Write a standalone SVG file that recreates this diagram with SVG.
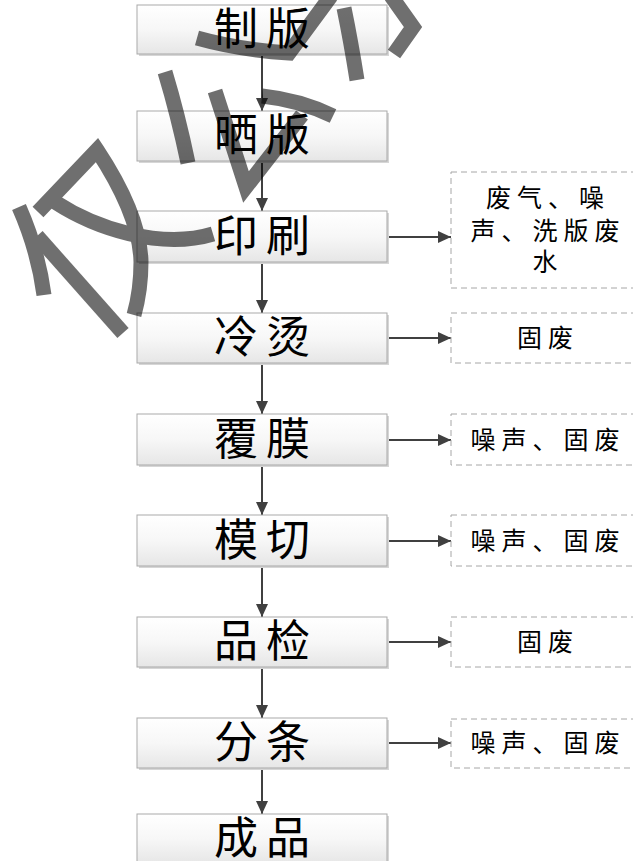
<svg xmlns="http://www.w3.org/2000/svg" width="633" height="861" viewBox="0 0 633 861">
<style>
.box{fill:url(#g);stroke:#a9a9a9;stroke-width:1}
.sh{fill:#d6d6d6}
.lbl{font-family:"Liberation Serif","Noto Sans CJK SC",serif;font-size:44px;letter-spacing:8px;fill:#000;text-anchor:middle;dominant-baseline:central}
.out{fill:#fff;stroke:#a6a6a6;stroke-width:1;stroke-dasharray:6 4}
.otx{font-family:"Liberation Serif","Noto Sans CJK SC",serif;font-size:25px;letter-spacing:6px;fill:#000;text-anchor:middle;dominant-baseline:central}
.c{stroke:#404040;stroke-width:2;fill:none;marker-end:url(#ah)}
.wm{fill:none;stroke:#000;stroke-width:15;stroke-linecap:butt;stroke-linejoin:miter}
</style>
<defs>
<linearGradient id="g" x1="0" y1="0" x2="0" y2="1">
<stop offset="0" stop-color="#ffffff"/>
<stop offset="0.5" stop-color="#f7f7f7"/>
<stop offset="1" stop-color="#e6e6e6"/>
</linearGradient>
<marker id="ah" markerUnits="userSpaceOnUse" markerWidth="14" markerHeight="12" refX="13" refY="6" orient="auto">
<path d="M0,0 L13,6 L0,12 z" fill="#404040"/>
</marker>
</defs>
<rect width="633" height="861" fill="#fff"/>
<g id="connectors">
<path class="c" d="M262,54 V111"/>
<path class="c" d="M262,161 V211"/>
<path class="c" d="M262,262 V313"/>
<path class="c" d="M262,363 V414"/>
<path class="c" d="M262,465 V515"/>
<path class="c" d="M262,566 V617"/>
<path class="c" d="M262,667 V718"/>
<path class="c" d="M262,768 V814"/>
<path class="c" d="M388,237 H451"/>
<path class="c" d="M388,338 H451"/>
<path class="c" d="M388,440 H451"/>
<path class="c" d="M388,541 H451"/>
<path class="c" d="M388,642 H451"/>
<path class="c" d="M388,743 H451"/>
</g>
<g id="n1"><rect class="sh" x="139" y="7" width="250" height="49"/><rect class="box" x="137" y="5" width="250" height="49"/><text class="lbl" x="266" y="30">制版</text></g>
<g id="n2"><rect class="sh" x="139" y="113" width="250" height="50"/><rect class="box" x="137" y="111" width="250" height="50"/><text class="lbl" x="266" y="136">晒版</text></g>
<g id="n3"><rect class="sh" x="139" y="213" width="250" height="51"/><rect class="box" x="137" y="211" width="250" height="51"/><text class="lbl" x="266" y="237">印刷</text></g>
<g id="n4"><rect class="sh" x="139" y="315" width="250" height="50"/><rect class="box" x="137" y="313" width="250" height="50"/><text class="lbl" x="266" y="338">冷烫</text></g>
<g id="n5"><rect class="sh" x="139" y="416" width="250" height="51"/><rect class="box" x="137" y="414" width="250" height="51"/><text class="lbl" x="266" y="440">覆膜</text></g>
<g id="n6"><rect class="sh" x="139" y="517" width="250" height="51"/><rect class="box" x="137" y="515" width="250" height="51"/><text class="lbl" x="266" y="541">模切</text></g>
<g id="n7"><rect class="sh" x="139" y="619" width="250" height="50"/><rect class="box" x="137" y="617" width="250" height="50"/><text class="lbl" x="266" y="642">品检</text></g>
<g id="n8"><rect class="sh" x="139" y="720" width="250" height="50"/><rect class="box" x="137" y="718" width="250" height="50"/><text class="lbl" x="266" y="743">分条</text></g>
<g id="n9"><rect class="sh" x="139" y="816" width="250" height="50"/><rect class="box" x="137" y="814" width="250" height="50"/><text class="lbl" x="266" y="839">成品</text></g>
<g id="o1"><rect class="out" x="451" y="172" width="200" height="116"/>
<text class="otx" x="548" y="198">废气、噪</text>
<text class="otx" x="548" y="231">声、洗版废</text>
<text class="otx" x="548" y="262">水</text></g>
<g id="o2"><rect class="out" x="451" y="313" width="200" height="50"/><text class="otx" x="548" y="338">固废</text></g>
<g id="o3"><rect class="out" x="451" y="414" width="200" height="51"/><text class="otx" x="548" y="440">噪声、固废</text></g>
<g id="o4"><rect class="out" x="451" y="515" width="200" height="51"/><text class="otx" x="548" y="541">噪声、固废</text></g>
<g id="o5"><rect class="out" x="451" y="617" width="200" height="50"/><text class="otx" x="548" y="642">固废</text></g>
<g id="o6"><rect class="out" x="451" y="719" width="200" height="49"/><text class="otx" x="548" y="743">噪声、固废</text></g>
<g id="watermark" opacity="0.56">
<path class="wm" d="M197,38 Q240,50 289,53 L331,-4"/>
<path class="wm" d="M344,8 Q351,42 357,80"/>
<path class="wm" d="M391,-4 L413,27 L394,54"/>
<path class="wm" d="M165,72 Q178,115 188,163"/>
<path class="wm" d="M215,91 L246,187 L302,115"/>
<path class="wm" d="M262,96 Q300,100 333,116"/>
<path class="wm" d="M38,212 L97,150 Q140,215 141,262 Q141,290 134,315"/>
<path class="wm" d="M55,202 C95,228 160,250 213,234"/>
<path class="wm" d="M19,207 Q38,250 44,295"/>
<path class="wm" d="M37,236 L123,333"/>
</g>
</svg>
